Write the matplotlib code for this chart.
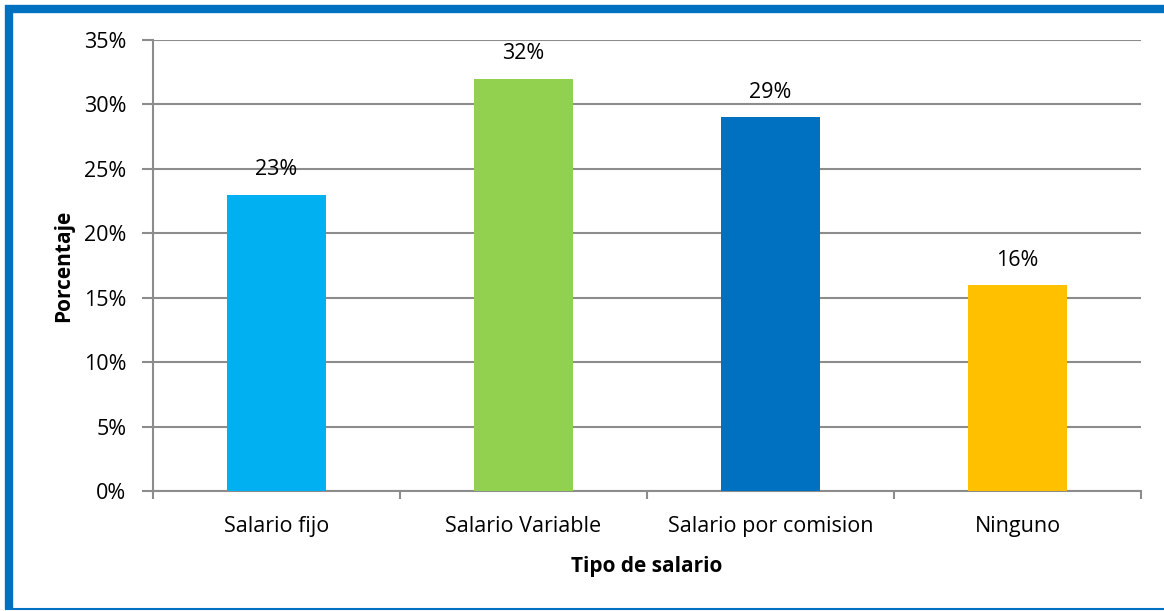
import matplotlib.pyplot as plt
from matplotlib.lines import Line2D
from matplotlib.ticker import MultipleLocator, FuncFormatter

# Data
categorias = ['Salario fijo', 'Salario Variable', 'Salario por comision', 'Ninguno']
porcentajes = [23, 32, 29, 16]
colores = ['#00B0F0', '#92D050', '#0070C0', '#FFC000']

plt.rcParams['font.family'] = ['Open Sans', 'DejaVu Sans']

W, H = 1164, 611
fig = plt.figure(figsize=(W / 100, H / 100), dpi=100)
ax = fig.add_axes([153 / W, 1 - 491 / H, (1141 - 153) / W, (491 - 40) / H])

# Blue frame: thick left and top, thin bottom
azul = '#0070C0'
fig.lines.append(Line2D([9 / W, 9 / W], [1 - 5 / H, 1 - 609 / H], transform=fig.transFigure,
                        color=azul, linewidth=6, solid_capstyle='butt'))
fig.lines.append(Line2D([5 / W, 1], [1 - 9 / H, 1 - 9 / H], transform=fig.transFigure,
                        color=azul, linewidth=6, solid_capstyle='butt'))
fig.lines.append(Line2D([5 / W, 1], [1 - 609 / H, 1 - 609 / H], transform=fig.transFigure,
                        color=azul, linewidth=1.5, solid_capstyle='butt'))

x = range(len(categorias))
bars = ax.bar(x, porcentajes, width=0.4, color=colores, zorder=3)
for b, v in zip(bars, porcentajes):
    ax.text(b.get_x() + b.get_width() / 2, v + 1.1, f'{v}%', ha='center', va='bottom',
            fontsize=15.5)

ax.set_xlim(-0.5, len(categorias) - 0.5)
ax.set_ylim(0, 35)
ax.yaxis.set_major_locator(MultipleLocator(5))
ax.yaxis.set_major_formatter(FuncFormatter(lambda v, p: f'{int(v)}%'))
ax.grid(axis='y', color='#8c8c8c', linewidth=1.5, zorder=0)
ax.set_axisbelow(True)

ax.set_xticks(list(x))
ax.set_xticklabels(categorias, fontsize=15.5)
ax.set_xticks([i - 0.5 for i in range(len(categorias) + 1)], minor=True)
ax.tick_params(axis='x', which='major', length=0, pad=18)
ax.tick_params(axis='x', which='minor', length=6, color='#8c8c8c', width=1.5)
ax.tick_params(axis='y', length=8, color='#8c8c8c', width=1.5, labelsize=15.5, pad=11)

for s in ['top', 'right']:
    ax.spines[s].set_visible(False)
for s in ['left', 'bottom']:
    ax.spines[s].set_color('#8c8c8c')
    ax.spines[s].set_linewidth(1.5)

ax.set_xlabel('Tipo de salario', fontsize=15, fontweight='bold', labelpad=14)
ax.set_ylabel('Porcentaje', fontsize=15, fontweight='bold', labelpad=7)

fig.savefig('out.png', dpi=100)
